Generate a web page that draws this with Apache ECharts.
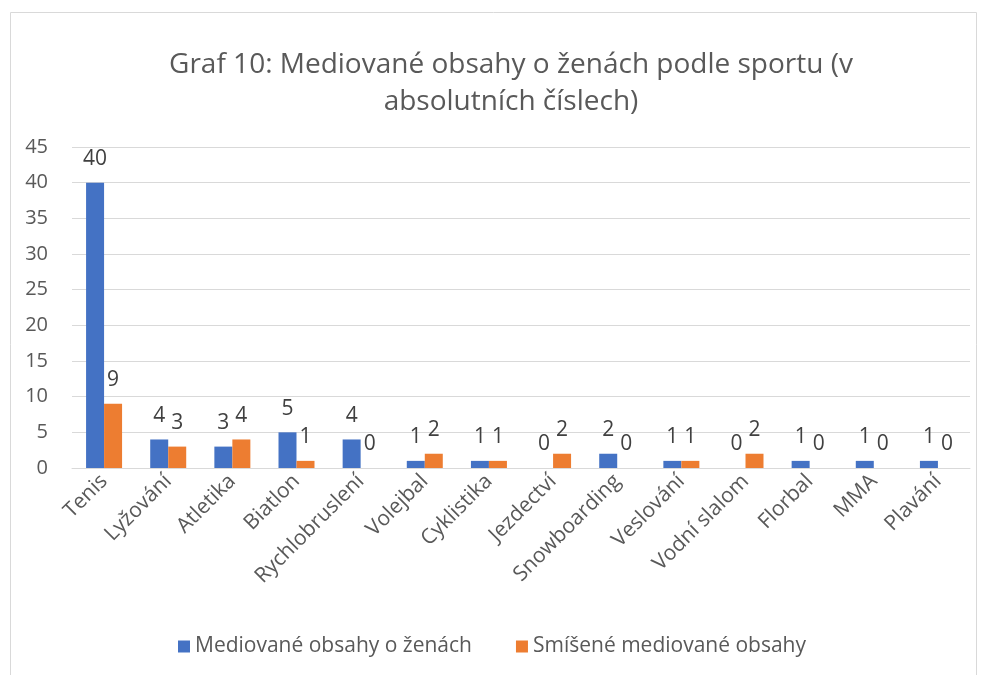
<!DOCTYPE html>
<html>
<head>
<meta charset="utf-8">
<script src="https://cdn.jsdelivr.net/npm/echarts@6/dist/echarts.min.js"></script>
<style>
  html, body { margin: 0; padding: 0; background: #fff; }
  #chart { width: 984px; height: 675px; }
</style>
</head>
<body>
<div id="chart"></div>
<script>
const categories = ['Tenis', 'Lyžování', 'Atletika', 'Biatlon', 'Rychlobruslení', 'Volejbal', 'Cyklistika',
  'Jezdectví', 'Snowboarding', 'Veslování', 'Vodní slalom', 'Florbal', 'MMA', 'Plavání'];
const zenyValues = [40, 4, 3, 5, 4, 1, 1, 0, 2, 1, 0, 1, 1, 1];
const smiseneValues = [9, 3, 4, 1, 0, 2, 1, 2, 0, 1, 2, 0, 0, 0];
const seriesNames = ['Mediované obsahy o ženách', 'Smíšené mediované obsahy'];

const font = 'Open Sans, Liberation Sans, sans-serif';
const chart = echarts.init(document.getElementById('chart'));

const barLabel = {
  show: true,
  position: 'top',
  distance: 13,
  color: '#404040',
  fontSize: 21,
  fontFamily: font,
};

chart.setOption({
  animation: false,
  color: ['#4472C4', '#ED7D31'],
  title: {
    text: 'Graf 10: Mediované obsahy o ženách podle sportu (v\nabsolutních číslech)',
    left: 506,
    top: 42,
    textAlign: 'center',
    textStyle: {
      fontFamily: font,
      fontSize: 28,
      fontWeight: 'normal',
      color: '#595959',
      lineHeight: 37,
    },
  },
  graphic: [{
    type: 'rect',
    shape: { x: 10.5, y: 12.5, width: 966, height: 700 },
    style: { fill: 'none', stroke: '#d9d9d9', lineWidth: 1 },
    silent: true,
  }],
  legend: {
    bottom: 13,
    left: 'center',
    itemWidth: 12,
    itemHeight: 12,
    itemGap: 44,
    icon: 'rect',
    textStyle: { fontFamily: font, fontSize: 21, color: '#595959' },
    data: seriesNames,
  },
  grid: { left: 72, right: 14, top: 147, bottom: 207, containLabel: false },
  xAxis: {
    type: 'category',
    data: categories,
    axisLine: { lineStyle: { color: '#d9d9d9' } },
    axisTick: { show: false },
    axisLabel: {
      rotate: 45,
      interval: 0,
      margin: 10,
      color: '#595959',
      fontSize: 21,
      fontFamily: font,
    },
  },
  yAxis: {
    type: 'value',
    min: 0,
    max: 45,
    interval: 5,
    axisLine: { show: false },
    axisTick: { show: false },
    splitLine: { lineStyle: { color: '#d9d9d9' } },
    axisLabel: { color: '#595959', fontSize: 20, fontFamily: font, margin: 24 },
  },
  series: [
    {
      name: seriesNames[0],
      type: 'bar',
      data: zenyValues,
      barWidth: 18,
      barGap: '0%',
      label: barLabel,
    },
    {
      name: seriesNames[1],
      type: 'bar',
      data: smiseneValues,
      barWidth: 18,
      barGap: '0%',
      label: barLabel,
    },
  ],
});
</script>
</body>
</html>
